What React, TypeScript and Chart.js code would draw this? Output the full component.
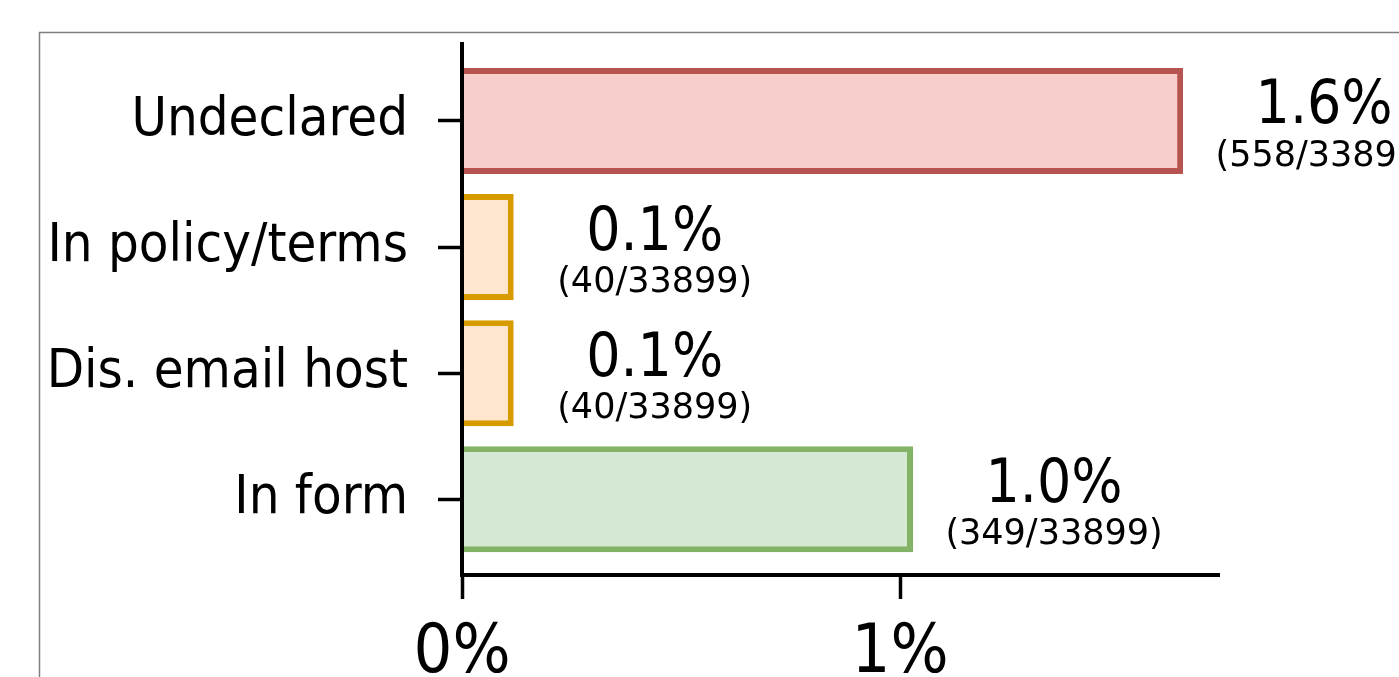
import React, { useEffect, useRef } from 'react';
import { Chart, registerables } from 'chart.js';

Chart.register(...registerables);

const categories = ['Undeclared', 'In policy/terms', 'Dis. email host', 'In form'];
const counts = [558, 40, 40, 349];
const total = 33899;
const percentValues = counts.map((c) => (c / total) * 100);
const xTickValues = [0, 1];
const xTickLabels = ['0%', '1%'];
const fillColors = ['#f8cecc', '#ffe6cc', '#ffe6cc', '#d5e8d4'];
const borderColors = ['#b85450', '#d79b00', '#d79b00', '#82b366'];

const COND = "'DejaVu Sans Condensed', 'DejaVu Sans', sans-serif";
const REG = "'DejaVu Sans', sans-serif";

const framePlugin = {
  id: 'frame',
  beforeDraw(chart: any) {
    const ctx = chart.ctx;
    ctx.save();
    ctx.strokeStyle = '#808080';
    ctx.lineWidth = 1.5;
    ctx.strokeRect(39.5, 32.5, 3000, 3000);
    ctx.restore();
  },
};

const barLabelPlugin = {
  id: 'barLabels',
  afterDatasetsDraw(chart: any) {
    const ctx = chart.ctx;
    const meta = chart.getDatasetMeta(0);
    meta.data.forEach((bar: any, i: number) => {
      const cx = bar.x + 141;
      ctx.save();
      ctx.fillStyle = '#000';
      ctx.textAlign = 'center';
      ctx.textBaseline = 'alphabetic';
      ctx.font = `60px ${COND}`;
      ctx.fillText(percentValues[i].toFixed(1) + '%', cx, bar.y + 2.5);
      ctx.font = `35px ${REG}`;
      ctx.fillText(`(${counts[i]}/${total})`, cx, bar.y + 45);
      ctx.restore();
    });
  },
};

export default function App() {
  const canvasRef = useRef<HTMLCanvasElement | null>(null);

  useEffect(() => {
    if (!canvasRef.current) return;
    const chart = new Chart(canvasRef.current, {
      type: 'bar',
      data: {
        datasets: [
          {
            data: percentValues.map((v, i) => ({ x: v, y: i })) as any,
            backgroundColor: fillColors,
            borderColor: borderColors,
            borderWidth: 6,
            barPercentage: 0.84,
            categoryPercentage: 1,
          },
        ],
      },
      options: {
        indexAxis: 'y',
        responsive: false,
        animation: false,
        layout: { padding: { top: 44, right: 180, bottom: 0, left: 0 } },
        plugins: { legend: { display: false }, tooltip: { enabled: false } },
        scales: {
          x: {
            type: 'linear',
            position: 'bottom',
            min: 0,
            max: 1.728,
            offset: false,
            afterBuildTicks: (scale: any) => {
              scale.ticks = xTickValues.map((v) => ({ value: v }));
            },
            afterFit: (scale: any) => {
              scale.height = 102;
              scale.paddingLeft = 0;
              scale.paddingRight = 0;
            },
            ticks: {
              callback: (v: any) => xTickLabels[xTickValues.indexOf(Number(v))],
              font: { family: COND, size: 68 },
              color: '#000',
              padding: 15,
              maxRotation: 0,
              autoSkip: false,
            },
            grid: {
              offset: false,
              drawOnChartArea: false,
              drawTicks: true,
              tickLength: 24,
              tickWidth: 3.5,
              tickColor: '#000',
            },
            border: { display: true, color: '#000', width: 4, z: 1 },
          },
          y: {
            type: 'linear',
            position: 'left',
            reverse: true,
            min: -0.61,
            max: 3.6,
            offset: false,
            afterBuildTicks: (scale: any) => {
              scale.ticks = categories.map((_, i) => ({ value: i }));
            },
            afterFit: (scale: any) => {
              scale.width = 462;
              scale.paddingTop = 0;
              scale.paddingBottom = 0;
            },
            ticks: {
              callback: (v: any) => categories[Number(v)],
              font: { family: COND, size: 54 },
              color: '#000',
              padding: 30,
              autoSkip: false,
            },
            grid: {
              offset: false,
              drawOnChartArea: false,
              drawTicks: true,
              tickLength: 24,
              tickWidth: 3.5,
              tickColor: '#000',
            },
            border: { display: true, color: '#000', width: 4, z: 1 },
          },
        },
      },
      plugins: [framePlugin, barLabelPlugin],
    });
    return () => chart.destroy();
  }, []);

  return (
    <div style={{ position: 'absolute', left: 0, top: 0, width: 1399, height: 677, background: '#fff' }}>
      <canvas ref={canvasRef} width={1399} height={677} style={{ display: 'block' }} />
    </div>
  );
}
